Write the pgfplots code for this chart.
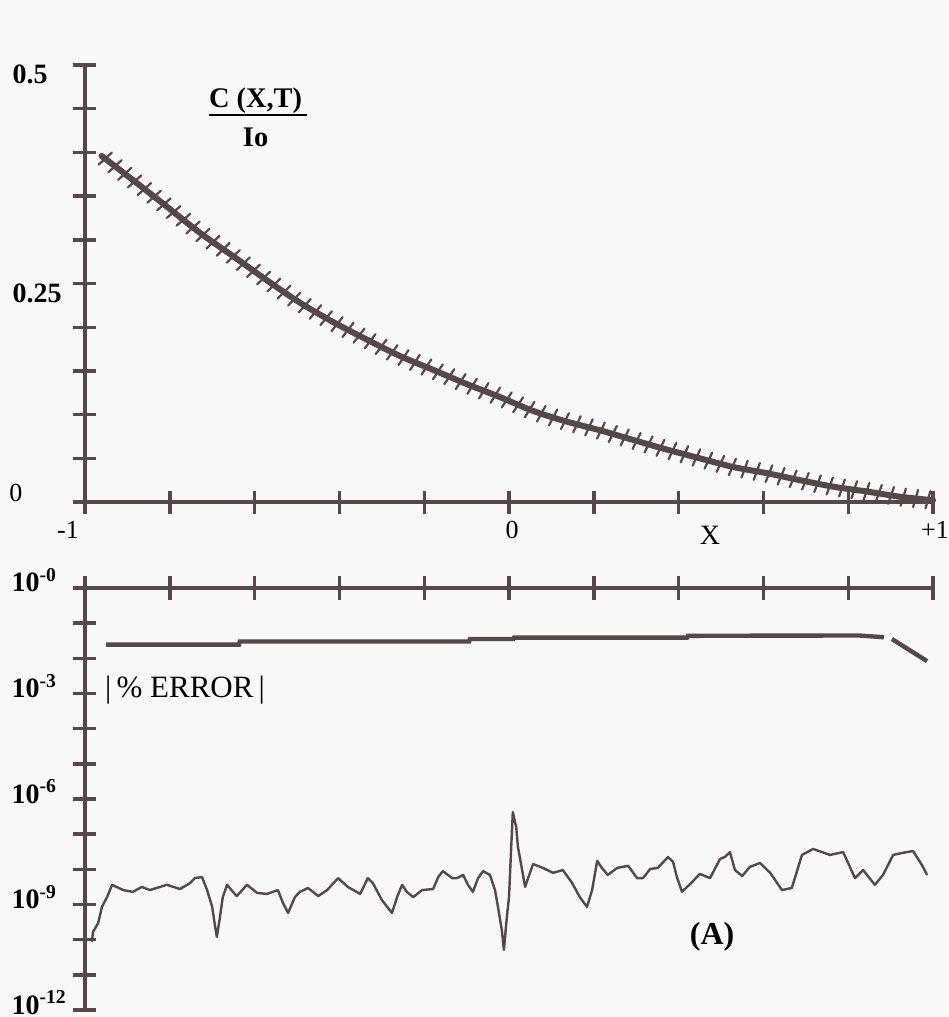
\documentclass[border=0pt]{standalone}
\usepackage{fontspec}
\setmainfont{Liberation Serif}
\usepackage{pgfplots}
\pgfplotsset{compat=1.18}
\usetikzlibrary{decorations.markings}
\definecolor{ink}{RGB}{84,72,72}
\definecolor{paper}{RGB}{248,248,247}

% concentration profile C(X,T)/Io
\pgfplotstableread{
x      c
-0.961 0.396
-0.886 0.368
-0.807 0.338
-0.729 0.308
-0.650 0.281
-0.572 0.254
-0.493 0.228
-0.415 0.206
-0.336 0.186
-0.257 0.167
-0.178 0.151
-0.100 0.135
-0.021 0.120
0.058  0.104
0.136  0.092
0.215  0.082
0.293  0.071
0.372  0.060
0.450  0.050
0.529  0.040
0.608  0.033
0.686  0.025
0.765  0.0175
0.844  0.012
0.922  0.006
1.000  0.002
}\profile

% log10 |% error|, upper trace (two pieces)
\pgfplotstableread{
x      l
-0.950 -1.61
-0.637 -1.61
-0.635 -1.52
-0.094 -1.52
-0.092 -1.45
0.010  -1.45
0.012  -1.41
0.420  -1.41
0.422  -1.36
0.825  -1.35
0.884  -1.40
}\errA
\pgfplotstableread{
x      l
0.903  -1.45
0.986  -2.08
}\errB

% log10 |% error|, lower trace
\pgfplotstableread{
x      l
-0.984 -10.06
-0.981 -9.78
-0.969 -9.53
-0.960 -9.07
-0.948 -8.79
-0.936 -8.44
-0.910 -8.59
-0.887 -8.64
-0.866 -8.50
-0.847 -8.59
-0.807 -8.44
-0.776 -8.56
-0.752 -8.39
-0.741 -8.25
-0.724 -8.22
-0.712 -8.59
-0.700 -9.07
-0.693 -9.64
-0.689 -9.92
-0.682 -9.38
-0.675 -8.79
-0.665 -8.44
-0.651 -8.64
-0.642 -8.76
-0.618 -8.44
-0.594 -8.67
-0.571 -8.70
-0.545 -8.59
-0.533 -8.96
-0.521 -9.24
-0.505 -8.79
-0.493 -8.64
-0.474 -8.53
-0.450 -8.76
-0.429 -8.59
-0.403 -8.25
-0.380 -8.50
-0.351 -8.70
-0.333 -8.25
-0.321 -8.39
-0.300 -8.87
-0.276 -9.24
-0.264 -8.79
-0.252 -8.44
-0.241 -8.64
-0.226 -8.79
-0.205 -8.59
-0.179 -8.56
-0.167 -8.22
-0.156 -8.05
-0.134 -8.25
-0.123 -8.25
-0.108 -8.16
-0.097 -8.44
-0.085 -8.64
-0.073 -8.25
-0.061 -8.05
-0.045 -8.16
-0.033 -8.59
-0.026 -9.07
-0.017 -9.72
-0.012 -10.29
-0.005 -9.35
0.000  -8.79
0.007  -6.88
0.009  -6.37
0.017  -6.80
0.021  -7.36
0.031  -8.02
0.038  -8.50
0.045  -8.25
0.057  -7.85
0.080  -7.96
0.104  -8.10
0.127  -8.02
0.149  -8.39
0.167  -8.79
0.184  -9.07
0.196  -8.59
0.208  -7.76
0.219  -7.96
0.233  -8.16
0.255  -7.96
0.281  -7.90
0.302  -8.25
0.316  -8.25
0.333  -7.99
0.351  -7.96
0.375  -7.65
0.387  -7.79
0.396  -8.22
0.408  -8.64
0.432  -8.36
0.450  -8.13
0.474  -8.25
0.498  -7.70
0.509  -7.65
0.521  -7.51
0.533  -8.02
0.550  -8.19
0.568  -7.93
0.592  -7.82
0.616  -8.10
0.644  -8.59
0.667  -8.53
0.691  -7.59
0.717  -7.42
0.757  -7.59
0.788  -7.51
0.804  -7.93
0.816  -8.25
0.835  -8.02
0.863  -8.44
0.882  -8.16
0.906  -7.59
0.929  -7.53
0.953  -7.48
0.974  -7.88
0.986  -8.16
}\errC

\pgfplotsset{
  panel/.style={
    scale only axis, width=424pt, xmin=-1, xmax=1, clip=false,
    axis line style={ink, line width=1.8pt},
    tick style={ink, line width=1.7pt},
    tick align=center, major tick length=11.5pt,
    xtick={-1,-0.8,-0.6,-0.4,-0.2,0,0.2,0.4,0.6,0.8,1},
    xticklabels={},
  },
  hatch/.style={
    postaction={decorate},
    decoration={markings,
      mark=between positions 0.005 and 0.995 step 6.2pt with
        {\draw[ink, line width=1.1pt] (-0.8pt,-4.4pt) -- (0.8pt,4.4pt);}},
  },
}

\begin{document}
\begin{tikzpicture}
\path[use as bounding box, fill=paper] (-42.5pt,-257.5pt) rectangle (431.5pt,251pt);

\begin{axis}[panel, height=218.5pt,
  ymin=0, ymax=0.5,
  axis x line*=bottom, axis y line*=left,
  ytick={0,0.05,0.1,0.15,0.2,0.25,0.3,0.35,0.4,0.45,0.5},
  yticklabels={,,,,,0.25,,,,,0.5},
  yticklabel style={anchor=north west, xshift=-34pt, yshift=3.5pt,
    font=\bfseries\fontsize{14}{14}\selectfont},
]
\addplot[ink, line width=3pt, smooth, line cap=round, hatch]
  table[x=x, y=c] {\profile};
\node[font=\bfseries\fontsize{14.2}{15}\selectfont] at (axis cs:-0.592,0.436)
  {\setlength{\arrayrulewidth}{1pt}\begin{tabular}{@{}c@{\,}}C (X,T)\\[-1pt]\hline\rule{0pt}{15pt}Io\end{tabular}};
\node[font=\fontsize{13}{13}\selectfont] at (axis cs:-1,0) [xshift=-34.5pt, yshift=4.5pt] {0};
\node[font=\fontsize{13}{13}\selectfont] at (axis cs:-1,0) [xshift=-8.5pt, yshift=-14pt] {-1};
\node[font=\fontsize{13}{13}\selectfont] at (axis cs:0,0) [xshift=1.5pt, yshift=-14pt] {0};
\node[font=\fontsize{13}{13}\selectfont] at (axis cs:1,0) [xshift=1pt, yshift=-14pt] {+1};
\node[font=\fontsize{14}{14}\selectfont] at (axis cs:0.474,0) [yshift=-16.5pt] {X};
\end{axis}

\begin{axis}[panel, at={(0pt,-43pt)}, anchor=north west, height=211pt,
  ymin=-12, ymax=0,
  axis x line*=top, axis y line*=left,
  ytick={-12,-11,-10,-9,-8,-7,-6,-5,-4,-3,-2,-1,0},
  yticklabels={10\textsuperscript{-12},,,10\textsuperscript{-9},,,10\textsuperscript{-6},,,10\textsuperscript{-3},,,10\textsuperscript{-0}},
  yticklabel style={anchor=base west, xshift=-34.5pt, yshift=-2pt,
    font=\bfseries\fontsize{14}{14}\selectfont},
]
\addplot[ink, line width=2.2pt] table[x=x, y=l] {\errA};
\addplot[ink, line width=2.2pt] table[x=x, y=l] {\errB};
\addplot[ink, line width=1.2pt, line join=round] table[x=x, y=l] {\errC};
\node[font=\fontsize{15.5}{16}\selectfont] at (axis cs:-0.764,-2.90) {|\,\% ERROR\,|};
\node[font=\bfseries\fontsize{16}{16}\selectfont] at (axis cs:0.479,-9.92) {(A)};
\end{axis}
\end{tikzpicture}
\end{document}
